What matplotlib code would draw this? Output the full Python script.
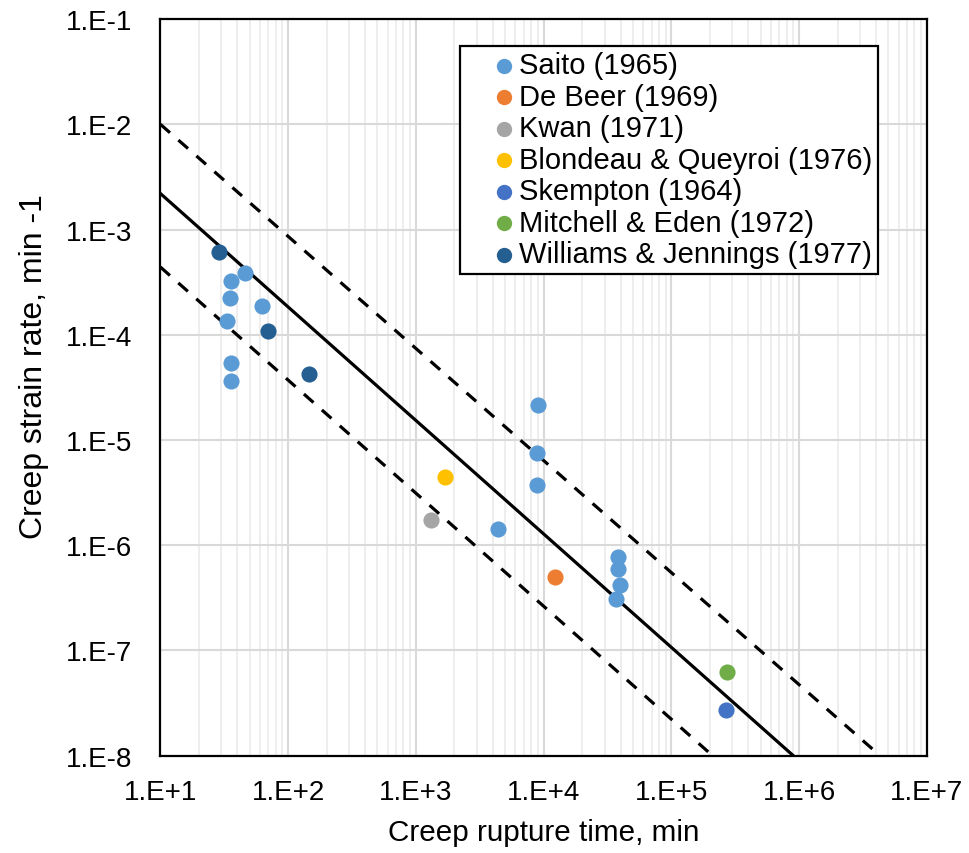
import math
import matplotlib
matplotlib.use("Agg")
import matplotlib.pyplot as plt
from matplotlib.ticker import LogLocator, FuncFormatter, NullFormatter

plt.rcParams['font.family'] = ['Liberation Sans', 'DejaVu Sans']

# rupture time (min) and creep strain rate (1/min) per study
saito_t = [46, 36, 34.8, 62, 33.4, 36, 36, 9060, 8800, 8800, 4400, 38400, 38400, 39500, 36800]
saito_r = [3.9e-4, 3.25e-4, 2.24e-4, 1.87e-4, 1.35e-4, 5.4e-5, 3.6e-5,
           2.13e-5, 7.6e-6, 3.7e-6, 1.43e-6, 7.7e-7, 6.0e-7, 4.15e-7, 3.1e-7]
debeer_t = [12250]
debeer_r = [5.0e-7]
kwan_t = [1306]
kwan_r = [1.72e-6]
blondeau_t = [1700]
blondeau_r = [4.45e-6]
skempton_t = [266000]
skempton_r = [2.7e-8]
mitchell_t = [274000]
mitchell_r = [6.2e-8]
williams_t = [29, 69, 145]
williams_r = [6.1e-4, 1.08e-4, 4.2e-5]

# fitted line and bounds, endpoints
mean_t = [10, 9.0e5]
mean_r = [2.2e-3, 1e-8]
upper_t = [10, 4.3e6]
upper_r = [1.0e-2, 1e-8]
lower_t = [10, 2.1e5]
lower_r = [4.4e-4, 1e-8]

series = [
    ("Saito (1965)", saito_t, saito_r, "#5B9BD5"),
    ("De Beer (1969)", debeer_t, debeer_r, "#ED7D31"),
    ("Kwan (1971)", kwan_t, kwan_r, "#A5A5A5"),
    ("Blondeau & Queyroi (1976)", blondeau_t, blondeau_r, "#FFC000"),
    ("Skempton (1964)", skempton_t, skempton_r, "#4472C4"),
    ("Mitchell & Eden (1972)", mitchell_t, mitchell_r, "#70AD47"),
    ("Williams & Jennings (1977)", williams_t, williams_r, "#255E91"),
]

fig = plt.figure(figsize=(9.69, 8.54), dpi=100)
ax = fig.add_axes([0.1655, 0.114, 0.791, 0.8625])

ax.set_xscale('log')
ax.set_yscale('log')
ax.set_xlim(1e1, 1e7)
ax.set_ylim(1e-8, 1e-1)

ax.plot(mean_t, mean_r, color='black', lw=2.3, zorder=3)
ax.plot(upper_t, upper_r, color='black', lw=2.3, ls=(0, (4, 3.5)), zorder=3)
ax.plot(lower_t, lower_r, color='black', lw=2.3, ls=(0, (4, 3.5)), zorder=3)

for label, t, r, c in series:
    ax.scatter(t, r, s=135, color=c, label=label, zorder=4, linewidths=0)

ax.xaxis.set_major_locator(LogLocator(base=10, numticks=20))
ax.xaxis.set_minor_locator(LogLocator(base=10, subs=range(2, 10), numticks=20))
ax.yaxis.set_major_locator(LogLocator(base=10, numticks=20))
ax.yaxis.set_minor_locator(LogLocator(base=10, subs=[], numticks=20))
fmt = FuncFormatter(lambda v, p: "1.E%+d" % round(math.log10(v)))
ax.xaxis.set_major_formatter(fmt)
ax.yaxis.set_major_formatter(fmt)
ax.xaxis.set_minor_formatter(NullFormatter())

ax.grid(True, which='major', color='#D9D9D9', lw=1.5, zorder=0)
ax.grid(True, which='minor', axis='x', color='#EDEDED', lw=1.3, zorder=0)
ax.set_axisbelow(True)
ax.tick_params(which='both', length=0, labelsize=20)
ax.tick_params(axis='y', pad=20)
ax.tick_params(axis='x', pad=17)

for s in ax.spines.values():
    s.set_color('black')
    s.set_linewidth(1.6)

ax.set_xlabel("Creep rupture time, min", fontsize=21.3, labelpad=9)
ax.set_ylabel("Creep strain rate, min -1", fontsize=23)
ax.yaxis.set_label_coords(-0.145, 0.529)

leg = ax.legend(loc='upper right', bbox_to_anchor=(0.936, 0.964), fontsize=21,
                frameon=True, fancybox=False, edgecolor='black', framealpha=1,
                handletextpad=-0.8, handlelength=2.6, labelspacing=0.12,
                borderpad=0.2, borderaxespad=0, markerscale=0.95)
leg.get_frame().set_linewidth(1.6)

fig.savefig("out.png", dpi=100)
